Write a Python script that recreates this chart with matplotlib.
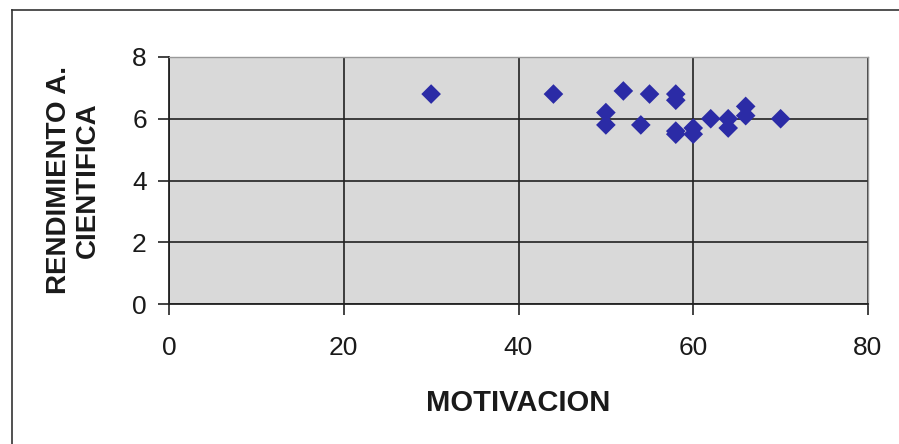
import matplotlib
matplotlib.use("Agg")
from matplotlib import pyplot as plt
from matplotlib.lines import Line2D

# motivation score vs. scientific performance, one point per student
motivacion = [30, 44, 52, 55, 58, 58, 50, 50, 54, 58, 58, 60, 60, 62, 64, 64, 66, 66, 70]
rendimiento = [6.8, 6.8, 6.9, 6.8, 6.8, 6.6, 6.2, 5.8, 5.8, 5.6, 5.5, 5.7, 5.5, 6.0, 6.0, 5.7, 6.4, 6.1, 6.0]

x_ticks = [0, 20, 40, 60, 80]
y_ticks = [0, 2, 4, 6, 8]

plt.rcParams['font.family'] = ['Liberation Sans', 'DejaVu Sans']

W, H = 899, 444
fig = plt.figure(figsize=(W / 100, H / 100), dpi=100)
fig.patch.set_facecolor('white')

left, right, top, bottom = 169, 868, 57, 304
ax = fig.add_axes([left / W, 1 - bottom / H, (right - left) / W, (bottom - top) / H])
ax.set_facecolor('#d9d9d9')

ax.scatter(motivacion, rendimiento, marker='D', s=100, color='#2b2ba6',
           edgecolors='none', zorder=3)

ax.set_xlim(0, 80)
ax.set_ylim(0, 8)
ax.set_xticks(x_ticks)
ax.set_yticks(y_ticks)
ax.grid(True, color='#222222', linewidth=1.2)
ax.set_axisbelow(True)

for side in ['top', 'right']:
    ax.spines[side].set_color('#999999')
    ax.spines[side].set_linewidth(1)
for side in ['left', 'bottom']:
    ax.spines[side].set_color('#222222')
    ax.spines[side].set_linewidth(1.3)

ax.tick_params(axis='both', direction='out', length=8, width=1.2,
               color='#222222', labelsize=19, labelcolor='#1a1a1a')
ax.tick_params(axis='x', pad=15)
ax.tick_params(axis='y', pad=8)

ax.set_xlabel('MOTIVACION', fontsize=21, fontweight='bold', color='#1a1a1a')
ax.xaxis.set_label_coords(0.5, -0.345)
ax.set_ylabel('RENDIMIENTO A.\nCIENTIFICA', fontsize=20, fontweight='bold',
              color='#1a1a1a', linespacing=1.1)
ax.yaxis.set_label_coords(-0.098, 0.5)

# chart area frame (top and left edges)
fig.add_artist(Line2D([12 / W, 1], [1 - 10 / H, 1 - 10 / H], color='#333333', linewidth=1.2))
fig.add_artist(Line2D([12 / W, 12 / W], [0, 1 - 10 / H], color='#333333', linewidth=1.2))

fig.savefig('out.png', dpi=100, facecolor='white')
